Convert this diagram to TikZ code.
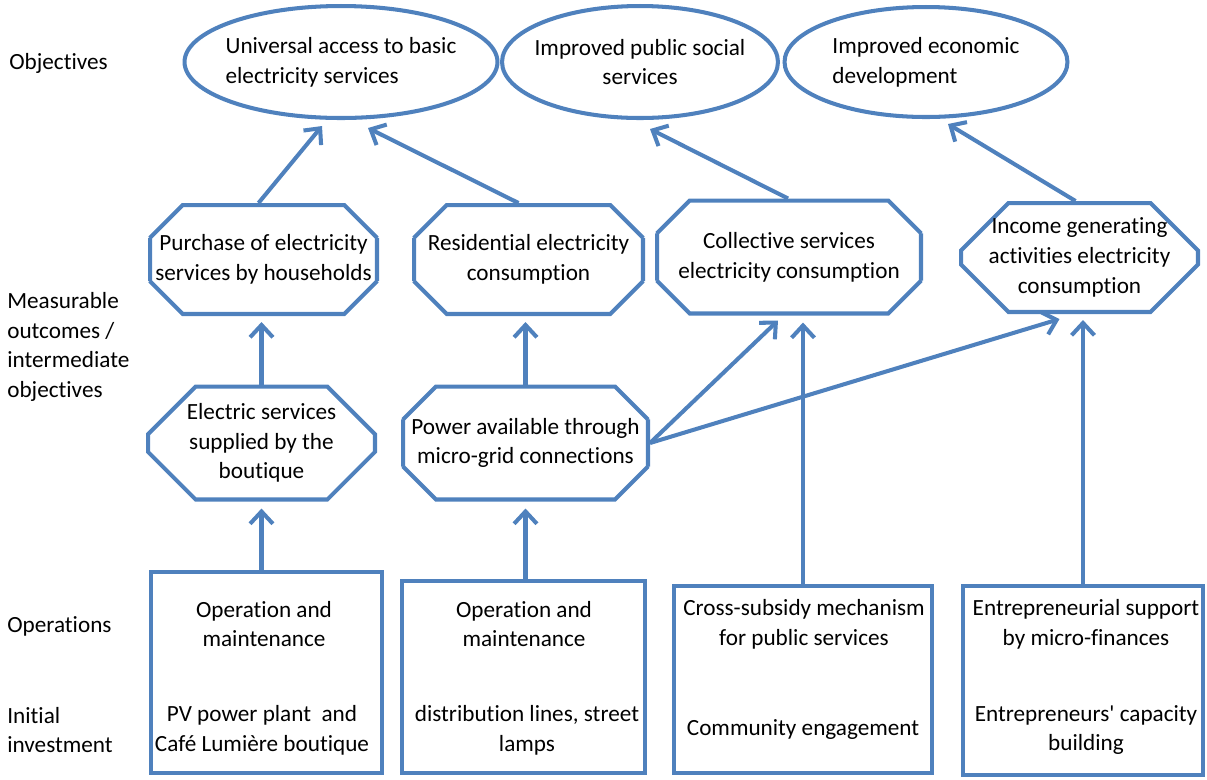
\documentclass[tikz,border=0pt]{standalone}
\usepackage{fontspec}
\setmainfont{Carlito}[Ligatures=NoCommon]
\usepackage{tikz}
\usetikzlibrary{shapes, shapes.misc, positioning, calc, arrows.meta}
\definecolor{ublue}{RGB}{79,129,189}
\newcommand{\diagfont}{\fontsize{13.2pt}{16.9pt}\selectfont}

\begin{document}
\begin{tikzpicture}[x=0.02cm, y=-0.02cm, font=\diagfont,
    objective/.style={ellipse, draw=ublue, line width=2.3pt, inner xsep=-5pt},
    outcome/.style={chamfered rectangle, chamfered rectangle sep=0.66cm, draw=ublue,
      line width=2.3pt, align=center, inner xsep=-0.6cm, inner ysep=-0.5cm},
    operation/.style={rectangle, draw=ublue, line width=2.3pt},
    boxtext/.style={align=center, inner sep=0pt},
    rowlabel/.style={anchor=west, align=left, inner sep=0pt},
    link/.style={-{Straight Barb[length=7pt, width=13pt]}, draw=ublue, line width=2.3pt}]
    \useasboundingbox (0,0) rectangle (1207,779);

    % Row labels
    \node[rowlabel] (lobj) at (9,63) {Objectives};
    \node[rowlabel] (lmeas) at (7,347) {Measurable\\outcomes /\\intermediate\\objectives};
    \node[rowlabel] (lops) at (7,626) {Operations};
    \node[rowlabel] (linit) at (7,730) {Initial\\investment};

    % Objectives
    \node[objective, minimum width=6.26cm, minimum height=2.24cm, align=left] (univ) at (341,62)
        {Universal access to basic\\electricity services};
    \node[objective, minimum width=5.52cm, minimum height=2.24cm, align=center] (pub) at (640,62)
        {Improved public social\\services};
    \node[objective, minimum width=5.66cm, minimum height=2.2cm, align=left] (econ) at (926,62)
        {Improved economic\\development};

    % Measurable outcomes
    \node[outcome, minimum width=4.54cm, minimum height=2.18cm] (pur) at (263.5,259.5)
        {Purchase of electricity\\services by households};
    \node[outcome, minimum width=4.58cm, minimum height=2.18cm] (res) at (528.5,259.5)
        {Residential electricity\\consumption};
    \node[outcome, minimum width=5.28cm, minimum height=2.26cm] (col) at (789,257)
        {Collective services\\electricity consumption};
    \node[outcome, minimum width=4.74cm, minimum height=2.18cm] (inc) at (1079.5,257.5)
        {Income generating\\activities electricity\\consumption};
    \node[outcome, minimum width=4.54cm, minimum height=2.26cm] (elec) at (261.5,443)
        {Electric services\\supplied by the\\boutique};
    \node[outcome, minimum width=4.9cm, minimum height=2.26cm] (pow) at (525.5,443)
        {Power available through\\micro-grid connections};

    % Operations and initial investment
    \node[operation, minimum width=4.62cm, minimum height=4.02cm] (box1) at (266.5,672.5) {};
    \node[operation, minimum width=4.86cm, minimum height=3.84cm] (box2) at (523.5,677) {};
    \node[operation, minimum width=5.16cm, minimum height=3.74cm] (box3) at (803,679.5) {};
    \node[operation, minimum width=4.8cm, minimum height=3.78cm] (box4) at (1083,680.5) {};

    \node[boxtext] (ops1) at (264,624) {Operation and\\maintenance};
    \node[boxtext] (inv1) at (262,730) {PV power plant~ and\\Café Lumière boutique};
    \node[boxtext] (ops2) at (524,624) {Operation and\\maintenance};
    \node[boxtext] (inv2) at (527,730) {distribution lines, street\\lamps};
    \node[boxtext] (ops3) at (804,624) {Cross-subsidy mechanism\\for public services};
    \node[boxtext] (inv3) at (803,729) {Community engagement};
    \node[boxtext] (ops4) at (1086,624) {Entrepreneurial support\\by micro-finances};
    \node[boxtext] (inv4) at (1086,730) {Entrepreneurs\textquotesingle{} capacity\\building};

    % Links
    \draw[link] ($(pur.north)+(-5,0)$) -- ($(univ.south)+(-19,6)$);
    \draw[link] ($(res.north)+(-10,0)$) -- ($(univ.south)+(27,8)$);
    \draw[link] ($(col.north)+(-1,0)$) -- ($(pub.south)+(10,9)$);
    \draw[link] ($(inc.north)+(-4,0)$) -- ($(econ.south)+(22,5)$);
    \draw[link] (elec.north) -- ($(elec.north |- pur.south)+(0,6)$);
    \draw[link] (pow.north) -- ($(pow.north |- res.south)+(0,6)$);
    \draw[link] (pow.east) -- ($(col.south)+(-11,5)$);
    \draw[link] (pow.east) -- ($(inc.south)+(-20,5)$);
    \draw[link] (box1.north -| elec.south) -- ($(elec.south)+(0,7)$);
    \draw[link] (box2.north -| pow.south) -- ($(pow.south)+(0,7)$);
    \draw[link] (box3.north) -- ($(box3.north |- col.south)+(0,7)$);
    \draw[link] (box4.north) -- ($(box4.north |- inc.south)+(0,6)$);
\end{tikzpicture}
\end{document}
